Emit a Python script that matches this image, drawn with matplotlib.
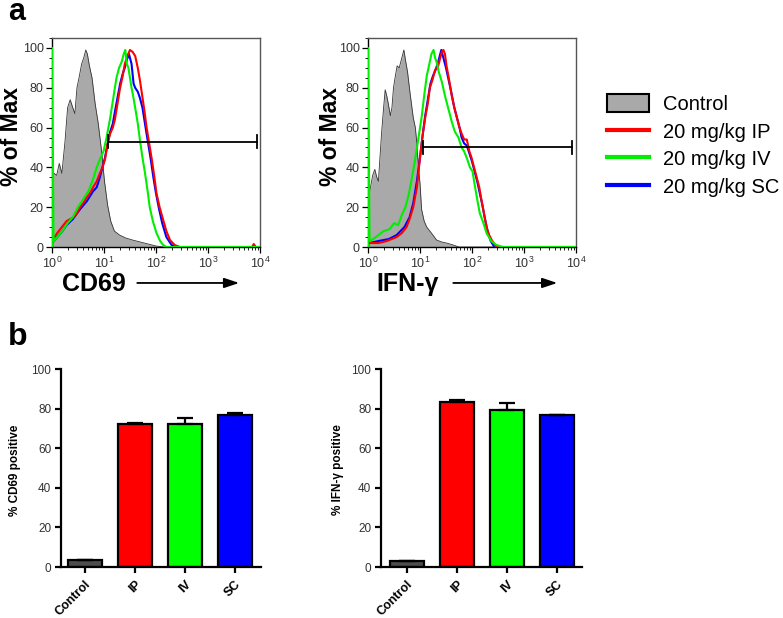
import numpy as np
import matplotlib
matplotlib.use('Agg')
import matplotlib.pyplot as plt
from matplotlib.patches import Patch
from matplotlib.lines import Line2D
from matplotlib.ticker import LogLocator, MultipleLocator, NullFormatter

plt.rcParams['font.family'] = ['Liberation Sans', 'DejaVu Sans']
plt.rcParams['mathtext.default'] = 'regular'

# ---- panel a: flow histograms (x stored as log10 of intensity) ----
cd69_ctrl_log = [0.0, 0.04, 0.09, 0.14, 0.19, 0.25, 0.30, 0.35, 0.40, 0.44, 0.48, 0.52, 0.57,
                 0.61, 0.65, 0.68, 0.72, 0.77, 0.83, 0.89, 0.95, 1.01, 1.07, 1.13, 1.2, 1.3,
                 1.42, 1.55, 1.7, 1.85, 2.0, 2.15, 4.0]
cd69_ctrl_y = [33, 37, 36, 42, 37, 53, 70, 74, 70, 67, 80, 85, 92, 95, 99, 97, 91, 85, 72, 62,
               49, 33, 21, 13, 8, 6, 4.5, 3.5, 2.5, 1.5, 0.5, 0, 0]
cd69_ip_log = [0.03, 0.1, 0.16, 0.22, 0.28, 0.35, 0.41, 0.48, 0.54, 0.6, 0.67, 0.73, 0.79, 0.86,
               0.92, 0.97, 1.02, 1.07, 1.12, 1.17, 1.21, 1.26, 1.31, 1.36, 1.40, 1.45, 1.5, 1.55,
               1.6, 1.65, 1.69, 1.73, 1.78, 1.82, 1.87, 1.92, 1.97, 2.01, 2.07, 2.14, 2.2, 2.27,
               2.36, 2.46, 3.85, 3.88, 3.92, 4.0]
cd69_ip_y = [4, 7, 9, 11, 13, 14, 15, 17, 20, 22, 25, 27, 30, 33, 37, 40, 44, 52, 57, 60, 64, 72,
             80, 86, 92, 96, 99, 98, 96, 90, 84, 77, 68, 60, 52, 44, 35, 27, 20, 13.5, 8, 3.5, 1,
             0, 0, 1.5, 0, 0]
cd69_sc_log = [0.03, 0.1, 0.2, 0.28, 0.4, 0.54, 0.67, 0.79, 0.86, 0.92, 0.97, 1.02, 1.07, 1.12,
               1.17, 1.21, 1.26, 1.31, 1.36, 1.4, 1.44, 1.48, 1.53, 1.57, 1.6, 1.65, 1.69, 1.74,
               1.8, 1.85, 1.9, 1.95, 2.0, 2.06, 2.12, 2.2, 2.3, 2.4, 4.0]
cd69_sc_y = [3, 5, 8, 11, 14, 19, 23, 28, 30, 35, 40, 45, 52, 58, 62, 68, 75, 82, 87, 90, 94, 97,
             92, 82, 80, 78, 75, 70, 60, 52, 44, 35, 27, 19, 12, 5, 1, 0, 0]
cd69_iv_log = [0.0, 0.0, 0.03, 0.1, 0.2, 0.3, 0.4, 0.5, 0.6, 0.7, 0.79, 0.86, 0.92, 0.99, 1.05,
               1.12, 1.18, 1.24, 1.29, 1.34, 1.38, 1.41, 1.44, 1.47, 1.5, 1.53, 1.56, 1.6, 1.65,
               1.69, 1.74, 1.79, 1.84, 1.88, 1.94, 2.01, 2.08, 2.14, 2.2, 4.0]
cd69_iv_y = [0, 100, 3, 5, 8, 12, 15, 20, 24, 28, 34, 40, 44, 48, 55, 65, 75, 85, 90, 93, 97, 99,
             92, 90, 85, 80, 76, 70, 62, 54, 45, 37, 28, 20, 13, 7, 3, 1, 0, 0]

ifn_ctrl_log = [0.0, 0.04, 0.09, 0.13, 0.17, 0.2, 0.26, 0.3, 0.33, 0.36, 0.39, 0.43, 0.46, 0.49,
                0.52, 0.56, 0.6, 0.65, 0.69, 0.72, 0.76, 0.81, 0.87, 0.91, 0.94, 0.97, 1.0, 1.03,
                1.08, 1.13, 1.22, 1.32, 1.42, 1.51, 1.64, 1.75, 4.0]
ifn_ctrl_y = [22, 29, 36, 39, 35, 33, 57, 70, 79, 76, 72, 66, 70, 80, 85, 91, 90, 95, 99, 94, 88,
              77, 65, 60, 52, 40, 32, 19, 13, 10, 7, 3.5, 2.5, 2, 1, 0, 0]
ifn_ip_log = [0.03, 0.2, 0.36, 0.55, 0.65, 0.74, 0.8, 0.87, 0.94, 1.0, 1.05, 1.1, 1.15, 1.19,
              1.24, 1.29, 1.34, 1.38, 1.42, 1.45, 1.48, 1.51, 1.56, 1.61, 1.66, 1.71, 1.76, 1.8,
              1.85, 1.9, 1.95, 1.99, 2.04, 2.09, 2.14, 2.18, 2.23, 2.28, 2.33, 2.38, 2.47, 4.0]
ifn_ip_y = [2, 2, 3, 5, 7, 10, 14, 20, 30, 45, 56, 65, 72, 80, 84, 89, 90, 94, 98, 99, 97, 91, 84,
            76, 70, 65, 60, 57, 54, 54, 48, 45, 40, 35, 30, 24, 17, 10, 6, 3.5, 0, 0]
ifn_sc_log = [0.03, 0.2, 0.4, 0.55, 0.7, 0.8, 0.87, 0.94, 1.0, 1.05, 1.1, 1.15, 1.2, 1.25, 1.3,
              1.35, 1.38, 1.41, 1.45, 1.5, 1.55, 1.6, 1.66, 1.71, 1.76, 1.8, 1.85, 1.9, 1.95, 2.0,
              2.05, 2.1, 2.15, 2.2, 2.25, 2.3, 2.36, 2.43, 4.0]
ifn_sc_y = [2, 3, 4, 6, 10, 15, 22, 33, 45, 56, 66, 74, 82, 86, 89, 93, 96, 99, 95, 90, 84, 78, 70,
            65, 60, 55, 52, 51, 47, 43, 38, 33, 27, 21, 14, 8, 3, 0, 0]
ifn_iv_log = [0.0, 0.0, 0.03, 0.1, 0.2, 0.3, 0.42, 0.5, 0.58, 0.65, 0.72, 0.78, 0.84, 0.9, 0.96,
              1.03, 1.08, 1.13, 1.18, 1.22, 1.26, 1.29, 1.32, 1.36, 1.42, 1.48, 1.54, 1.61, 1.67,
              1.74, 1.8, 1.85, 1.91, 1.96, 2.01, 2.06, 2.1, 2.15, 2.22, 2.28, 2.37, 2.47, 2.6, 4.0]
ifn_iv_y = [0, 100, 3, 4, 6, 8, 9, 12, 11, 16, 20, 26, 34, 43, 53, 65, 76, 86, 92, 97, 99, 95, 93,
            88, 83, 76, 70, 63, 58, 55, 50, 48, 44, 40, 38, 30, 24, 17, 12, 7, 3, 1, 0, 0]

# gate: (start, end, level)
cd69_gate = (12, 8700, 53)
ifn_gate = (11.5, 8300, 50)

legend_labels = ['Control', '20 mg/kg IP', '20 mg/kg IV', '20 mg/kg SC']

# ---- panel b: bar charts ----
groups = ['Control', 'IP', 'IV', 'SC']
cd69_pos = [3.5, 72, 72, 77]
cd69_err = [0, 0.9, 3.5, 0.6]
ifn_pos = [3.2, 83.3, 79.3, 76.7]
ifn_err = [0, 0.8, 3.6, 0.2]

ctrl_fill = '#a9a9a9'
line_colors = {'ip': '#ff0000', 'iv': '#00ee00', 'sc': '#0000ff'}
bar_colors = ['#4d4d4d', '#ff0000', '#00ff00', '#0000ff']

fig = plt.figure(figsize=(7.83, 6.18), dpi=100)


def draw_hist(ax, ctrl, sc, ip, iv, gate, xlabel, label_x, arrow_x, ylab_x):
  cx = 10 ** np.array(ctrl[0])
  ax.fill_between(cx, ctrl[1], 0, color=ctrl_fill, linewidth=0)
  ax.plot(cx, ctrl[1], color='#333333', lw=0.6)
  ax.plot(10 ** np.array(sc[0]), sc[1], color=line_colors['sc'], lw=1.5, zorder=3)
  ax.plot(10 ** np.array(ip[0]), ip[1], color=line_colors['ip'], lw=1.5, zorder=3)
  ax.plot(10 ** np.array(iv[0]), iv[1], color=line_colors['iv'], lw=1.5, zorder=3)
  g0, g1, gy = gate
  ax.plot([g0, g1], [gy, gy], color='black', lw=1.3, zorder=4)
  ax.plot([g0, g0], [gy - 3.5, gy + 3.5], color='black', lw=1.3, zorder=4)
  ax.plot([g1, g1], [gy - 3.5, gy + 3.5], color='black', lw=1.3, zorder=4)

  ax.set_xscale('log')
  ax.set_xlim(1, 1e4)
  ax.set_ylim(0, 105)
  ax.set_yticks([0, 20, 40, 60, 80, 100])
  ax.yaxis.set_minor_locator(MultipleLocator(5))
  ax.xaxis.set_major_locator(LogLocator(base=10, numticks=10))
  ax.xaxis.set_minor_locator(LogLocator(base=10, subs=np.arange(2, 10), numticks=10))
  ax.xaxis.set_minor_formatter(NullFormatter())
  ax.tick_params(which='major', direction='out', length=4, width=0.9, labelsize=9,
                 labelcolor='#333333', pad=2)
  ax.tick_params(which='minor', direction='out', length=2, width=0.6)
  for s in ['top', 'right']:
    ax.spines[s].set_color('#555555')
    ax.spines[s].set_linewidth(1.0)
  for s in ['left', 'bottom']:
    ax.spines[s].set_linewidth(1.0)

  ax.set_ylabel('% of Max', fontsize=16.5, fontweight='bold')
  ax.yaxis.set_label_coords(ylab_x, 0.53)
  ax.text(label_x, -0.175, xlabel, transform=ax.transAxes, fontsize=18, fontweight='bold',
          ha='center', va='center')
  ax.annotate('', xy=(arrow_x[1], -0.172), xytext=(arrow_x[0], -0.172),
              xycoords='axes fraction', textcoords='axes fraction',
              arrowprops=dict(arrowstyle='-|>,head_length=0.9,head_width=0.3',
                              color='black', lw=1.3, shrinkA=0, shrinkB=0))


ax1 = fig.add_axes([0.0664, 0.6003, 0.2656, 0.3382])
draw_hist(ax1, (cd69_ctrl_log, cd69_ctrl_y), (cd69_sc_log, cd69_sc_y),
          (cd69_ip_log, cd69_ip_y), (cd69_iv_log, cd69_iv_y), cd69_gate,
          'CD69', 0.2, (0.41, 0.9), -0.14)

ax2 = fig.add_axes([0.470, 0.6003, 0.2656, 0.3382])
draw_hist(ax2, (ifn_ctrl_log, ifn_ctrl_y), (ifn_sc_log, ifn_sc_y),
          (ifn_ip_log, ifn_ip_y), (ifn_iv_log, ifn_iv_y), ifn_gate,
          'IFN-γ', 0.19, (0.41, 0.91), -0.125)

handles = [Patch(facecolor=ctrl_fill, edgecolor='black', linewidth=1.5),
           Line2D([], [], color=line_colors['ip'], lw=3),
           Line2D([], [], color=line_colors['iv'], lw=3),
           Line2D([], [], color=line_colors['sc'], lw=3)]
fig.legend(handles, legend_labels, loc='upper left', bbox_to_anchor=(0.775, 0.848),
           frameon=False, fontsize=14.5, handlelength=2.1, handleheight=1.0,
           labelspacing=0.39, handletextpad=0.7, borderaxespad=0, borderpad=0)


def draw_bars(ax, vals, errs, ylabel, label_x, xlim):
  x = np.arange(len(groups))
  ax.bar(x, vals, width=0.68, color=bar_colors, edgecolor='black', linewidth=1.6,
         yerr=[np.zeros(len(errs)), errs], capsize=6,
         error_kw=dict(elinewidth=1.6, capthick=1.6, ecolor='black'))
  ax.set_xlim(*xlim)
  ax.set_ylim(0, 100)
  ax.set_yticks([0, 20, 40, 60, 80, 100])
  ax.set_xticks(x)
  ax.set_xticklabels(groups, rotation=45, ha='right', rotation_mode='anchor',
                     fontsize=9, fontweight='bold')
  for s in ['top', 'right']:
    ax.spines[s].set_visible(False)
  for s in ['left', 'bottom']:
    ax.spines[s].set_linewidth(1.6)
  ax.tick_params(axis='y', direction='out', length=4, width=1.6, labelsize=8.5,
                 labelcolor='#333333', pad=3)
  ax.tick_params(axis='x', direction='out', length=4, width=1.6, pad=4)
  ax.set_ylabel(ylabel, fontsize=8.5, fontweight='bold')
  ax.yaxis.set_label_coords(label_x, 0.49)


ax3 = fig.add_axes([0.0779, 0.0825, 0.2554, 0.3204])
draw_bars(ax3, cd69_pos, cd69_err, '% CD69 positive', -0.2, (-0.48, 3.52))

ax4 = fig.add_axes([0.4866, 0.0825, 0.2567, 0.3204])
draw_bars(ax4, ifn_pos, ifn_err, '% IFN-γ positive', -0.184, (-0.52, 3.5))

fig.text(0.01, 1 - 20 / 618, 'a', fontsize=22, fontweight='bold', va='baseline')
fig.text(0.01, 1 - 345 / 618, 'b', fontsize=23, fontweight='bold', va='baseline')

fig.savefig('out.png', dpi=100)
